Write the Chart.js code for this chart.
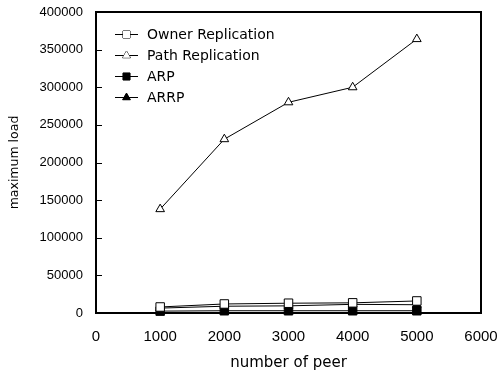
<!DOCTYPE html>
<html>
<head>
<meta charset="utf-8">
<script src="https://cdn.jsdelivr.net/npm/chart.js@4/dist/chart.umd.min.js"></script>
<style>
html,body{margin:0;padding:0;background:#fff;}
#wrap{width:499px;height:374px;}
</style>
</head>
<body>
<div id="wrap"><canvas id="c" width="499" height="374"></canvas></div>
<script>
const peers = [1000, 2000, 3000, 4000, 5000];
const ownerReplication = [8000, 12000, 13000, 13500, 16000];
const pathReplication = [138000, 231000, 280000, 300000, 364000];
const arp = [2500, 3000, 3000, 3000, 3000];
const arrp = [6500, 9000, 9500, 11500, 11000];
const seriesNames = ['Owner Replication', 'Path Replication', 'ARP', 'ARRP'];
const xTitle = 'number of peer';
const yTitle = 'maximum load';

function pts(vals){ return peers.map((p,i)=>({x:p,y:vals[i]})); }

const styles = [
  {pointStyle:'rect', fill:'#fff', r:6},
  {pointStyle:'triangle', fill:'#fff', r:5},
  {pointStyle:'rect', fill:'#000', r:6},
  {pointStyle:'triangle', fill:'#000', r:5}
];
const allVals = [ownerReplication, pathReplication, arp, arrp];

const datasets = allVals.map((v,i)=>({
  label: seriesNames[i],
  data: pts(v),
  borderColor:'#000',
  borderWidth:1,
  pointStyle: styles[i].pointStyle,
  pointRadius: styles[i].r,
  pointBackgroundColor: styles[i].fill,
  pointBorderColor:'#000',
  pointBorderWidth:1,
  tension:0,
  clip:false
}));

const framePlugin = {
  id:'frame',
  afterDatasetsDraw(chart){
    const {ctx, chartArea:a, scales} = chart;
    ctx.save();
    ctx.strokeStyle='#000'; ctx.lineWidth=1;
    const ys = scales.y;
    ys.ticks.forEach(t=>{
      const py = Math.round(ys.getPixelForValue(t.value))+0.5;
      ctx.beginPath(); ctx.moveTo(a.left, py); ctx.lineTo(a.left+6, py); ctx.stroke();
    });
    ctx.lineWidth=2;
    ctx.strokeRect(a.left, a.top, a.right-a.left, a.bottom-a.top);
    const rows=[34,55,76,97];
    ctx.font='14px "DejaVu Sans"';
    ctx.textBaseline='middle'; ctx.textAlign='left'; ctx.fillStyle='#000';
    seriesNames.forEach((n,i)=>{
      const y=rows[i];
      ctx.lineWidth=1; ctx.strokeStyle='#000';
      ctx.beginPath(); ctx.moveTo(115,y+0.5); ctx.lineTo(138,y+0.5); ctx.stroke();
      ctx.fillStyle=styles[i].fill;
      Chart.helpers.drawPoint(ctx,{pointStyle:styles[i].pointStyle, radius: styles[i].pointStyle==='rect'?5:4.5, rotation:0, borderWidth:1}, 126.5, y+0.5);
      ctx.fill();
      ctx.fillStyle='#000';
      ctx.fillText(n, 147, y+1);
    });
    ctx.restore();
  }
};

new Chart(document.getElementById('c'), {
  type:'line',
  data:{datasets},
  options:{
    responsive:false,
    animation:false,
    devicePixelRatio:1,
    layout:{padding:{left:0,right:18,top:12,bottom:0}},
    plugins:{legend:{display:false}, tooltip:{enabled:false}},
    scales:{
      x:{
        type:'linear', min:0, max:6000,
        ticks:{stepSize:1000, color:'#000', font:{family:'"Liberation Sans"', size:15}, padding:15, maxRotation:0, callback:v=>String(v)},
        grid:{display:false, drawTicks:false},
        border:{display:false},
        title:{display:true, text:xTitle, color:'#000', font:{family:'"DejaVu Sans"', size:15}, padding:{top:0,bottom:2}},
        afterFit(s){ s.height = 61; s.paddingLeft = 0; s.paddingRight = 0; }
      },
      y:{
        type:'linear', min:0, max:400000,
        ticks:{stepSize:50000, color:'#000', font:{family:'"Liberation Sans"', size:13}, padding:13, callback:v=>String(v)},
        grid:{display:false, drawTicks:false},
        border:{display:false},
        title:{display:true, text:yTitle, color:'#000', font:{family:'"DejaVu Sans"', size:12.5}, padding:{top:7,bottom:0}},
        afterFit(s){ s.width = 96; s.paddingTop = 0; s.paddingBottom = 0; }
      }
    }
  },
  plugins:[framePlugin]
});
</script>
</body>
</html>
